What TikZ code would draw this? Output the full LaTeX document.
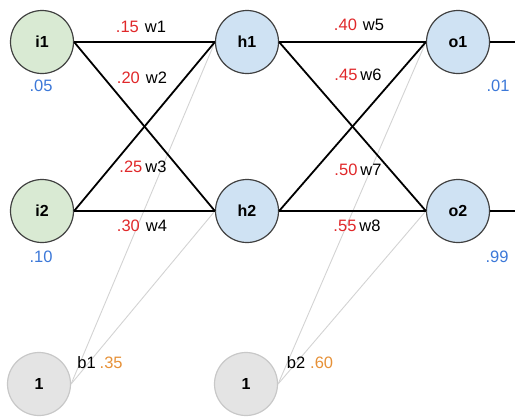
\documentclass[tikz,border=0pt]{standalone}
\usepackage{fontspec}
\setmainfont{Liberation Sans}
\definecolor{ingreen}{HTML}{D9EAD3}
\definecolor{hidblue}{HTML}{CFE2F3}
\definecolor{biasgray}{HTML}{E4E4E4}
\definecolor{ringgray}{HTML}{404040}
\definecolor{faintgray}{HTML}{C8C8C8}
\definecolor{wred}{HTML}{E0282A}
\definecolor{valblue}{HTML}{3C78D8}
\definecolor{borange}{HTML}{E69138}
\begin{document}
\begin{tikzpicture}
 [
 x=1pt, y=-1pt,
 every node/.style={font=\fontsize{16.5}{20}\selectfont},
 inball/.style={circle, draw=ringgray, fill=ingreen, line width=1.2pt, minimum size=63pt, inner sep=0pt, font=\fontsize{16}{20}\selectfont\bfseries},
 hidball/.style={circle, draw=ringgray, fill=hidblue, line width=1.2pt, minimum size=63pt, inner sep=0pt, font=\fontsize{16}{20}\selectfont\bfseries},
 biasball/.style={circle, draw=faintgray, fill=biasgray, line width=1.2pt, minimum size=63pt, inner sep=0pt, font=\fontsize{16}{20}\selectfont\bfseries},
 weightline/.style={draw=black, line width=1.8pt},
 biasline/.style={draw=faintgray!80, line width=0.9pt},
 wlabel/.style={inner sep=0pt},
 vlabel/.style={inner sep=0pt, text=valblue}
 ]
 \useasboundingbox (0,0) rectangle (521,418);
 \node at (42,42) [inball]   (i1) {i1};
 \node at (42,211) [inball]  (i2) {i2};
 \node at (247,42) [hidball]  (h1) {h1};
 \node at (247,211) [hidball] (h2) {h2};
 \node at (458,42) [hidball]  (o1) {o1};
 \node at (458,211) [hidball] (o2) {o2};
 \node at (39,384) [biasball]  (b1) {1};
 \node at (246,384) [biasball] (b2) {1};
 \coordinate (out1) at (515,42);
 \coordinate (out2) at (515,211);
 % bias connections
 \draw [biasline] (b1.east) -- (h1.west);
 \draw [biasline] (b1.east) -- (h2.west);
 \draw [biasline] (b2.east) -- (o1.west);
 \draw [biasline] (b2.east) -- (o2.west);
 % weights
 \draw [weightline] (i1.east) -- (h1.west);
 \draw [weightline] (i1.east) -- (h2.west);
 \draw [weightline] (i2.east) -- (h1.west);
 \draw [weightline] (i2.east) -- (h2.west);
 \draw [weightline] (h1.east) -- (o1.west);
 \draw [weightline] (h1.east) -- (o2.west);
 \draw [weightline] (h2.east) -- (o1.west);
 \draw [weightline] (h2.east) -- (o2.west);
 \draw [weightline] (o1.east) -- (out1);
 \draw [weightline] (o2.east) -- (out2);
 % labels
 \node at (141,27) [wlabel]  (lw1) {{\color{wred}.15}\hspace{6pt}w1};
 \node at (142,78) [wlabel]  (lw2) {{\color{wred}.20}\hspace{6pt}w2};
 \node at (143,167) [wlabel] (lw3) {{\color{wred}.25}\hspace{3pt}w3};
 \node at (142,226) [wlabel] (lw4) {{\color{wred}.30}\hspace{6pt}w4};
 \node at (359,25) [wlabel]  (lw5) {{\color{wred}.40}\hspace{6pt}w5};
 \node at (358,75) [wlabel]  (lw6) {{\color{wred}.45}\hspace{3pt}w6};
 \node at (358,170) [wlabel] (lw7) {{\color{wred}.50}\hspace{3pt}w7};
 \node at (357,226) [wlabel] (lw8) {{\color{wred}.55}\hspace{3pt}w8};
 \node at (41,86) [vlabel]   (vi1) {.05};
 \node at (41,257) [vlabel]  (vi2) {.10};
 \node at (498,86) [vlabel]  (vo1) {.01};
 \node at (497,257) [vlabel] (vo2) {.99};
 \node at (100,363) [wlabel] (lb1) {b1\hspace{4pt}{\color{borange}.35}};
 \node at (310,363) [wlabel] (lb2) {b2\hspace{5pt}{\color{borange}.60}};
\end{tikzpicture}
\end{document}
